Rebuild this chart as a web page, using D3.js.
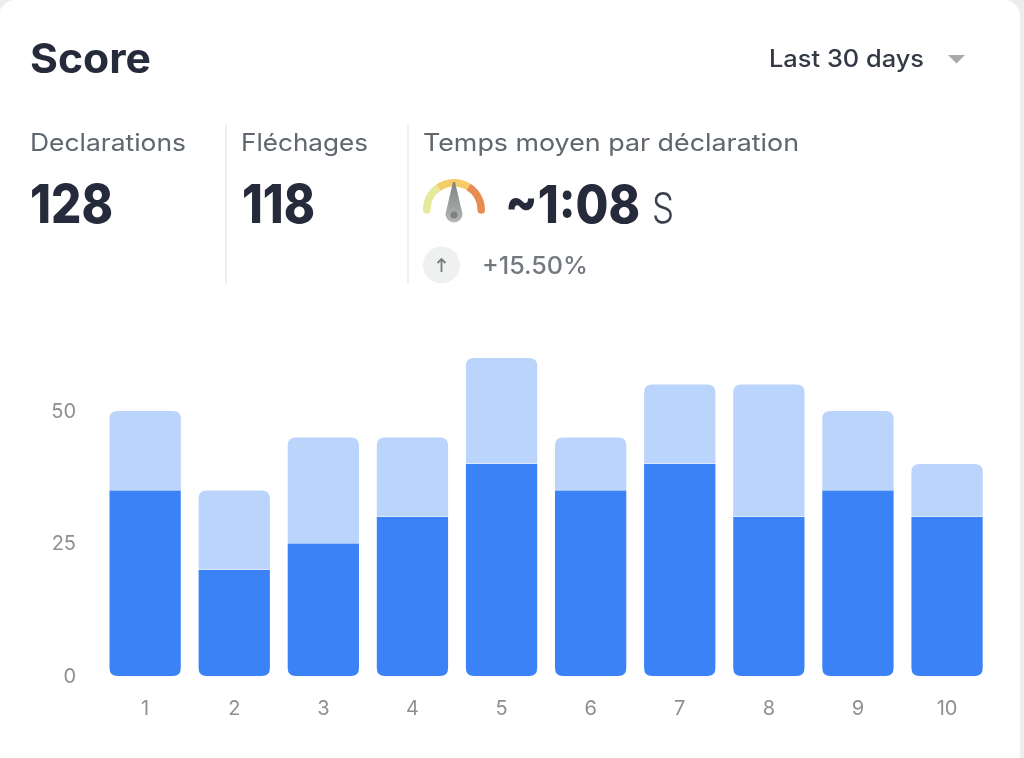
<!DOCTYPE html>
<html>
<head>
<meta charset="utf-8">
<script src="https://cdn.jsdelivr.net/npm/d3@7"></script>
<style>
  html, body { margin: 0; padding: 0; background: #ededed; overflow: hidden; }
  svg { display: block; font-family: Inter, "Noto Sans", sans-serif; filter: blur(0.6px); }
</style>
</head>
<body>
<div id="chart"></div>
<script>
const width = 1024;
const height = 758;

// data
const days = ["1", "2", "3", "4", "5", "6", "7", "8", "9", "10"];
const declarations = [35, 20, 25, 30, 40, 35, 40, 30, 35, 30];
const flechages = [15, 15, 20, 15, 20, 10, 15, 25, 15, 10];
const yTicks = [0, 25, 50];
const gaugeShares = [55, 67, 58];
const gaugeColors = ["#e4e99c", "#f5cd68", "#e88c52"];

const svg = d3.select("#chart")
  .append("svg")
  .attr("width", width)
  .attr("height", height)
  .attr("viewBox", [0, 0, width, height]);

// card
svg.append("rect")
  .attr("x", -1)
  .attr("y", 0)
  .attr("width", 1021)
  .attr("height", 800)
  .attr("rx", 16)
  .attr("fill", "#ffffff");

// header and stats text
const dark = "#252b3a";
const grey = "#5f666d";

function label(txt, x, y, size, weight, fill, len) {
  const t = svg.append("text")
    .attr("x", x)
    .attr("y", y)
    .attr("font-size", size)
    .attr("font-weight", weight)
    .attr("fill", fill)
    .text(txt);
  if (len) t.attr("textLength", len).attr("lengthAdjust", "spacingAndGlyphs");
  return t;
}

label("Score", 30, 72.5, 41, 700, dark, 121);
label("Last 30 days", 769, 67, 24, 500, "#333a46", 155);
label("Declarations", 30, 151, 24, 400, grey, 156);
label("Fléchages", 241, 151, 24, 400, grey, 127);
label("Temps moyen par déclaration", 423, 151, 24, 400, grey, 376);
label("128", 30, 223, 54, 800, dark, 83);
label("118", 242, 223, 54, 800, dark, 73);
label("~1:08", 505, 223, 52, 800, dark, 135);
label("S", 652, 223, 42, 300, "#3a404c", 22);
label("+15.50%", 482, 274, 24, 500, "#72787e", 106);

// dropdown caret
const caret = d3.path();
caret.moveTo(948, 55);
caret.lineTo(965, 55);
caret.lineTo(956.5, 63.5);
caret.closePath();
svg.append("path").attr("d", caret.toString()).attr("fill", "#a9a9a9");

// dividers
svg.selectAll("line.divider")
  .data([226, 408])
  .join("line")
  .attr("class", "divider")
  .attr("x1", d => d)
  .attr("x2", d => d)
  .attr("y1", 125)
  .attr("y2", 284)
  .attr("stroke", "#e6ebf0")
  .attr("stroke-width", 1.5);

// gauge
const gauge = svg.append("g").attr("transform", "translate(454,210)");
const pie = d3.pie().sort(null).startAngle(-Math.PI / 2).endAngle(Math.PI / 2);
const arc = d3.arc().innerRadius(23.5).outerRadius(31);
gauge.selectAll("path.seg")
  .data(pie(gaugeShares))
  .join("path")
  .attr("class", "seg")
  .attr("d", arc)
  .attr("fill", (d, i) => gaugeColors[i]);

// round ends of the gauge
gauge.selectAll("circle.cap")
  .data([[-27.25, gaugeColors[0]], [27.25, gaugeColors[2]]])
  .join("circle")
  .attr("class", "cap")
  .attr("cx", d => d[0])
  .attr("r", 3.75)
  .attr("fill", d => d[1]);

const needleFill = svg.append("defs")
  .append("linearGradient")
  .attr("id", "needle-fill")
  .attr("x1", 0).attr("x2", 0).attr("y1", 0).attr("y2", 1);
needleFill.append("stop").attr("offset", "0%").attr("stop-color", "#7e8282");
needleFill.append("stop").attr("offset", "100%").attr("stop-color", "#b4b6b6");

const needle = d3.path();
needle.moveTo(-1, -28);
needle.lineTo(1, -28);
needle.lineTo(8.5, 4);
needle.arc(0, 4, 8.5, 0, Math.PI);
needle.closePath();
gauge.append("path").attr("d", needle.toString()).attr("fill", "url(#needle-fill)");
gauge.append("circle").attr("cy", 5).attr("r", 3.5).attr("fill", "#7f8283");

// trend badge
const badge = svg.append("g").attr("transform", "translate(441.5,265)");
badge.append("circle").attr("r", 18.5).attr("fill", "#eff0f0");
const arrow = d3.path();
arrow.moveTo(0, 7);
arrow.lineTo(0, -6);
arrow.moveTo(-4, -2);
arrow.lineTo(0, -6);
arrow.lineTo(4, -2);
badge.append("path")
  .attr("d", arrow.toString())
  .attr("fill", "none")
  .attr("stroke", "#777c80")
  .attr("stroke-width", 1.8);

// scales
const x = d3.scaleBand()
  .domain(days)
  .range([100.6, 991.6])
  .paddingInner(0.2)
  .paddingOuter(0.1);

const y = d3.scaleLinear()
  .domain([0, 50])
  .range([676, 411]);

const table = days.map((d, i) => ({
  day: d,
  declarations: declarations[i],
  flechages: flechages[i]
}));
const stacked = d3.stack().keys(["declarations", "flechages"])(table);

// rounds only the outer end of a segment
function segment(x0, x1, yTop, yBottom, r, roundTop) {
  const p = d3.path();
  if (roundTop) {
    p.moveTo(x0, yBottom);
    p.lineTo(x0, yTop + r);
    p.quadraticCurveTo(x0, yTop, x0 + r, yTop);
    p.lineTo(x1 - r, yTop);
    p.quadraticCurveTo(x1, yTop, x1, yTop + r);
    p.lineTo(x1, yBottom);
  } else {
    p.moveTo(x0, yTop);
    p.lineTo(x1, yTop);
    p.lineTo(x1, yBottom - r);
    p.quadraticCurveTo(x1, yBottom, x1 - r, yBottom);
    p.lineTo(x0 + r, yBottom);
    p.quadraticCurveTo(x0, yBottom, x0, yBottom - r);
  }
  p.closePath();
  return p.toString();
}

const colors = { declarations: "#3b82f6", flechages: "#bad4fc" };

svg.append("g")
  .selectAll("g")
  .data(stacked)
  .join("g")
  .attr("fill", d => colors[d.key])
  .selectAll("path")
  .data(d => d.map(v => ({ v, top: d.key === "flechages" })))
  .join("path")
  .attr("d", d => segment(
    x(d.v.data.day),
    x(d.v.data.day) + x.bandwidth(),
    y(d.v[1]),
    y(d.v[0]) - (d.top ? 0.6 : 0),
    8,
    d.top
  ));

// axes
const yAxis = svg.append("g")
  .attr("transform", "translate(84,0)")
  .call(d3.axisLeft(y).tickValues(yTicks).tickSize(0).tickPadding(8));

const xAxis = svg.append("g")
  .attr("transform", "translate(0,676)")
  .call(d3.axisBottom(x).tickSize(0).tickPadding(25));

for (const axis of [yAxis, xAxis]) {
  axis.select(".domain").remove();
  axis.selectAll("text")
    .attr("fill", "#8b9094")
    .style("font-size", "20px")
    .style("font-family", "Inter, sans-serif");
}
</script>
</body>
</html>
